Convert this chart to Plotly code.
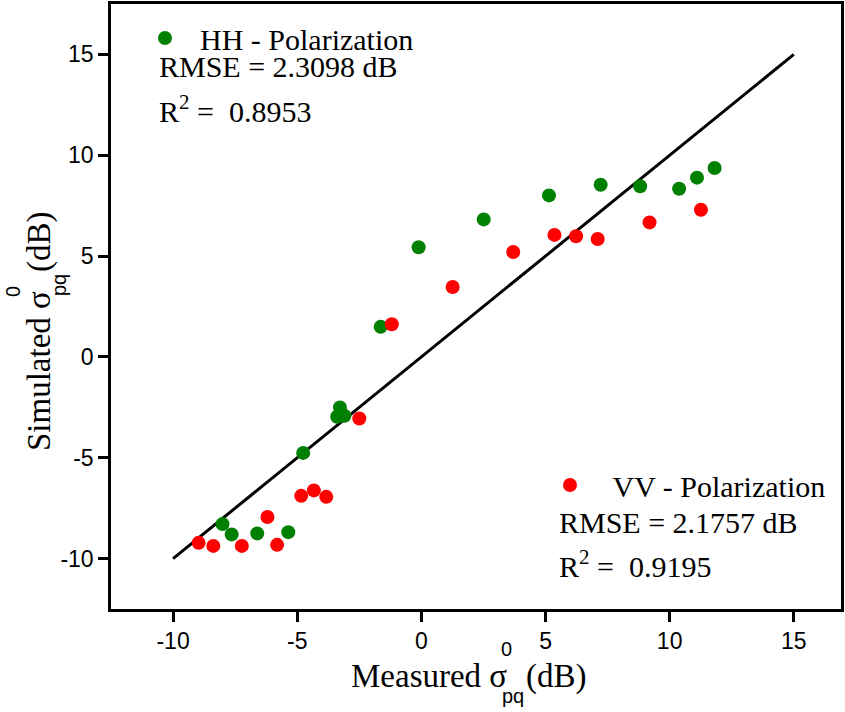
import plotly.graph_objects as go

# Data
hh_measured = [-8.01, -7.64, -6.61, -5.36, -4.76, -3.39, -3.28, -3.10, -1.64, -0.11,
               2.51, 5.14, 7.22, 8.81, 10.38, 11.10, 11.81]
hh_simulated = [-8.29, -8.80, -8.75, -8.69, -4.76, -2.97, -2.51, -2.92, 1.49, 5.44,
                6.82, 8.01, 8.54, 8.46, 8.34, 8.89, 9.37]

vv_measured = [-8.97, -8.38, -7.23, -5.81, -6.20, -4.84, -4.33, -3.83, -2.50, -1.19,
               1.26, 3.70, 5.36, 6.23, 7.10, 9.19, 11.26]
vv_simulated = [-9.22, -9.37, -9.37, -9.32, -7.94, -6.89, -6.62, -6.94, -3.05, 1.62,
                3.47, 5.20, 6.05, 5.98, 5.85, 6.67, 7.30]

line_x = [-10, 15]
line_y = [-10, 15]

tick_vals = [-10, -5, 0, 5, 10, 15]
tick_text = ["-10", "-5", "0", "5", "10", "15"]

hh_stats = ["RMSE = 2.3098 dB", "R<sup>2</sup> =  0.8953"]
vv_stats = ["RMSE = 2.1757 dB", "R<sup>2</sup> =  0.9195"]

SERIF = "Liberation Serif, Times New Roman, serif"
SANS = "Liberation Sans, Arial, sans-serif"

W, H = 845, 712
L, R, T, B = 111, 4, 4, 103
PW, PH = W - L - R, H - T - B


def px_x(px):
    return (px - L) / PW


def px_y(py):
    return (H - B - py) / PH


fig = go.Figure()
fig.add_trace(go.Scatter(x=line_x, y=line_y, mode="lines",
                         line=dict(color="black", width=3), showlegend=False,
                         hoverinfo="skip"))
fig.add_trace(go.Scatter(x=hh_measured, y=hh_simulated, mode="markers",
                         marker=dict(color="#008000", size=14),
                         name="\u00a0\u00a0HH - Polarization", legend="legend"))
fig.add_trace(go.Scatter(x=vv_measured, y=vv_simulated, mode="markers",
                         marker=dict(color="#ff0000", size=14),
                         name="\u00a0\u00a0\u00a0VV - Polarization", legend="legend2"))

axis_common = dict(
    showgrid=False, zeroline=False, showline=True, linecolor="black",
    linewidth=2.5, mirror=True, ticks="outside", ticklen=10, tickwidth=2.5,
    tickcolor="black", tickfont=dict(family=SANS, size=23, color="black"),
    tickvals=tick_vals, ticktext=tick_text, automargin=False,
)

STAT_SIZE = 30
annotations = []
# Statistics text
annotations.append(dict(text=hh_stats[0], x=px_x(157), y=px_y(66), xanchor="left", yanchor="middle"))
annotations.append(dict(text=hh_stats[1], x=px_x(157), y=px_y(109), xanchor="left", yanchor="middle"))
annotations.append(dict(text=vv_stats[0], x=px_x(557), y=px_y(522), xanchor="left", yanchor="middle"))
annotations.append(dict(text=vv_stats[1], x=px_x(557), y=px_y(564), xanchor="left", yanchor="middle"))
for a in annotations:
    a.update(xref="paper", yref="paper", showarrow=False,
             font=dict(family=SERIF, size=STAT_SIZE, color="black"))

TS = 33
# X axis title built from pieces (stacked super/subscript)
xt = [
    dict(text="Measured σ", x=px_x(429), y=px_y(676), xanchor="center", yanchor="middle",
         font=dict(family=SERIF, size=TS, color="black")),
    dict(text="0", x=px_x(506), y=px_y(649), xanchor="center", yanchor="middle",
         font=dict(family=SANS, size=20, color="black")),
    dict(text="pq", x=px_x(513), y=px_y(696), xanchor="center", yanchor="middle",
         font=dict(family=SANS, size=20, color="black")),
    dict(text="(dB)", x=px_x(556), y=px_y(676), xanchor="center", yanchor="middle",
         font=dict(family=SERIF, size=TS, color="black")),
]
# Y axis title pieces (rotated, reading bottom to top)
yt = [
    dict(text="Simulated σ", x=px_x(39), y=px_y(371), xanchor="center", yanchor="middle",
         textangle=-90, font=dict(family=SERIF, size=TS, color="black")),
    dict(text="0", x=px_x(13), y=px_y(292), xanchor="center", yanchor="middle",
         textangle=-90, font=dict(family=SANS, size=20, color="black")),
    dict(text="pq", x=px_x(59), y=px_y(285), xanchor="center", yanchor="middle",
         textangle=-90, font=dict(family=SANS, size=20, color="black")),
    dict(text="(dB)", x=px_x(39), y=px_y(242), xanchor="center", yanchor="middle",
         textangle=-90, font=dict(family=SERIF, size=TS, color="black")),
]
for a in xt + yt:
    a.update(xref="paper", yref="paper", showarrow=False)
annotations += xt + yt

fig.update_layout(
    width=W, height=H,
    margin=dict(l=L, r=R, t=T, b=B),
    plot_bgcolor="white", paper_bgcolor="white",
    xaxis=dict(range=[-12.5, 16.9], **axis_common),
    yaxis=dict(range=[-12.5, 17.5], **axis_common),
    legend=dict(x=px_x(145), y=px_y(12), xanchor="left", yanchor="top",
                bgcolor="rgba(0,0,0,0)", borderwidth=0,
                font=dict(family=SERIF, size=STAT_SIZE, color="black")),
    legend2=dict(x=px_x(550), y=px_y(459), xanchor="left", yanchor="top",
                 bgcolor="rgba(0,0,0,0)", borderwidth=0,
                 font=dict(family=SERIF, size=STAT_SIZE, color="black")),
    annotations=annotations,
)

fig.write_html("out.html", config={"displayModeBar": False},
               post_script="document.body.style.margin='0';")
